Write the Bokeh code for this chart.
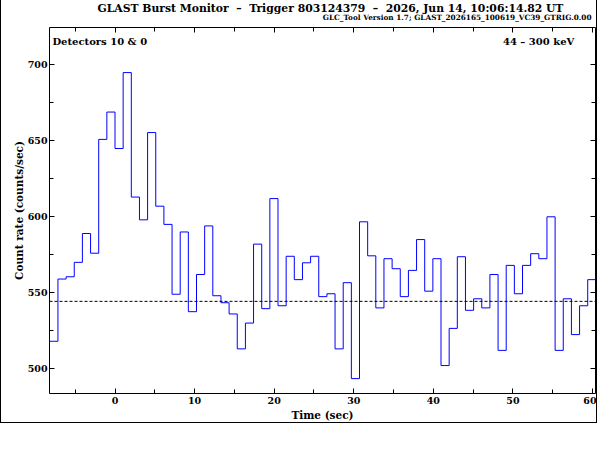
import numpy as np
from bokeh.plotting import figure
from bokeh.models import Range1d, LinearAxis, FixedTicker, Span, Label, Title
from bokeh.embed import file_html
from bokeh.resources import INLINE

# ---------------- data ----------------
BIN_WIDTH = 1.024          # seconds
FIRST_BIN_INDEX = -8       # first bin starts at -8 * 1.024 s
counts = [518, 559, 560.5, 570, 589, 576, 651, 669, 645, 695,
          613, 598, 655.5, 607, 595, 549, 590, 537.5, 562, 594,
          548, 543.4, 536, 513, 530, 582, 539.5, 612, 541.4, 574,
          558.6, 569.7, 574, 547.4, 549.3, 513, 556.6, 493.4, 596.7, 574.3,
          540, 572.4, 565.8, 547.4, 564.7, 585, 551, 572.4, 502, 526.5,
          573.7, 538.4, 546, 540, 562, 512, 568, 549.3, 568, 575.7,
          572.4, 600, 512, 546, 522.4, 541.4, 558.6]
BACKGROUND = 544.3

X_MAJOR = [0, 10, 20, 30, 40, 50, 60]
X_MINOR = [-5, 0, 5, 10, 15, 20, 25, 30, 35, 40, 45, 50, 55, 60]
Y_MAJOR = [500, 550, 600, 650, 700]
Y_MINOR = [500, 525, 550, 575, 600, 625, 650, 675, 700]

NB = "\u00a0"
DASH = NB + NB + "\u2013" + NB + NB
TITLE = ("GLAST Burst Monitor" + DASH + "Trigger 803124379" + DASH +
         "2026, Jun 14, 10:06:14.82 UT")
SUBTITLE = "GLC_Tool Version 1.7; GLAST_2026165_100619_VC39_GTRIG.0.00"
LEFT_NOTE = "Detectors 10 & 0"
RIGHT_NOTE = "44" + NB + "\u2013" + NB + "300 keV"
X_LABEL = "Time (sec)"
Y_LABEL = "Count rate (counts/sec)"

# ---------------- derived step geometry ----------------
n = len(counts)
edges = (FIRST_BIN_INDEX + np.arange(n + 1)) * BIN_WIDTH
step_x = edges
step_y = list(counts) + [counts[-1]]

FONT = "DejaVu Serif"

p = figure(width=597, height=423,
           x_range=Range1d(-8.23, 60.37), y_range=Range1d(483.6, 724.7),
           output_backend="svg", toolbar_location=None,
           min_border_left=48, min_border_right=3,
           min_border_top=27, min_border_bottom=30)
p.title_location = None
p.styles = {"border-left": "1px solid black",
            "border-right": "1px solid black",
            "border-bottom": "1px solid black"}
p.background_fill_color = "white"
p.border_fill_color = "white"
p.outline_line_color = "black"
p.outline_line_width = 1
p.xgrid.visible = False
p.ygrid.visible = False


def style_axis(ax, labels=True):
    ax.axis_line_color = None
    ax.major_tick_in = 5
    ax.major_tick_out = 0
    ax.minor_tick_in = 4
    ax.minor_tick_out = 0
    ax.major_tick_line_color = "black"
    ax.minor_tick_line_color = "black"
    if labels:
        ax.major_label_text_font = FONT
        ax.major_label_text_font_style = "bold"
        ax.major_label_text_font_size = "9.5px"
        ax.major_label_text_color = "black"
        ax.major_label_standoff = 2
        ax.axis_label_text_font = FONT
        ax.axis_label_text_font_style = "bold"
        ax.axis_label_text_font_size = "10.5px"
        ax.axis_label_text_color = "black"
        ax.axis_label_standoff = 0
    else:
        ax.major_label_text_font_size = "0px"
        ax.major_label_text_color = None
        ax.major_label_standoff = 0


p.xaxis[0].ticker = FixedTicker(ticks=X_MAJOR, minor_ticks=X_MINOR)
p.yaxis[0].ticker = FixedTicker(ticks=Y_MAJOR, minor_ticks=Y_MINOR)
style_axis(p.xaxis[0])
style_axis(p.yaxis[0])
p.xaxis[0].major_label_standoff = 3
p.xaxis[0].axis_label_standoff = 2
p.xaxis[0].axis_label = X_LABEL
p.yaxis[0].axis_label = Y_LABEL

top_ax = LinearAxis(ticker=FixedTicker(ticks=X_MAJOR, minor_ticks=X_MINOR))
right_ax = LinearAxis(ticker=FixedTicker(ticks=Y_MAJOR, minor_ticks=Y_MINOR))
style_axis(top_ax, labels=False)
style_axis(right_ax, labels=False)
p.add_layout(top_ax, "above")
p.add_layout(right_ax, "right")

sub_title = Title(text=SUBTITLE, align="right", offset=4, standoff=8.4,
                  vertical_align="top",
                  text_font=FONT, text_font_style="bold",
                  text_font_size="7.3px", text_color="black")
main_title = Title(text=TITLE, align="left", offset=48, standoff=-12.6,
                   text_font=FONT, text_font_style="bold",
                   text_font_size="10.8px", text_color="black")
p.add_layout(sub_title, "above")
p.add_layout(main_title, "above")

# background level
p.add_layout(Span(location=BACKGROUND, dimension="width", line_color="black",
                  line_dash="3 2", line_width=1))

# light curve
p.step(x=step_x, y=step_y, mode="after", line_color="#0000ff", line_width=1)

# texts inside the frame
p.add_layout(Label(x=-7.86, y=715.3, text=LEFT_NOTE, text_align="left",
                   text_baseline="middle", text_font=FONT,
                   text_font_style="bold", text_font_size="10px",
                   text_color="black"))
p.add_layout(Label(x=57.7, y=715.3, text=RIGHT_NOTE, text_align="right",
                   text_baseline="middle", text_font=FONT,
                   text_font_style="bold", text_font_size="10px",
                   text_color="black"))

open("out.html", "w").write(file_html(p, INLINE))
